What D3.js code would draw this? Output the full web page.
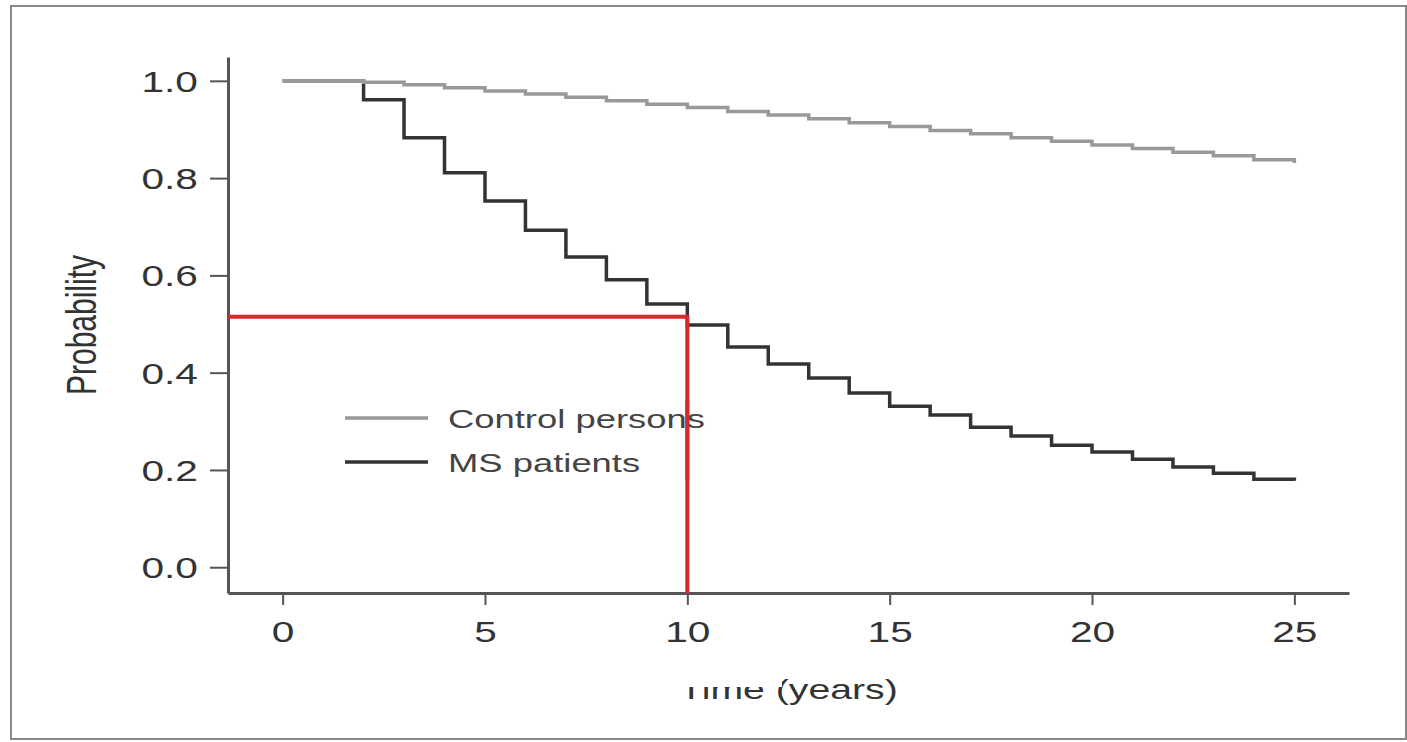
<!DOCTYPE html>
<html>
<head>
<meta charset="utf-8">
<script src="https://cdn.jsdelivr.net/npm/d3@7"></script>
<style>
  body { margin: 0; background: #fff; }
  text { font-family: "Liberation Sans", Arial, Helvetica, sans-serif; fill: #333; }
</style>
</head>
<body>
<div id="chart"></div>
<script>
{
    // data
    const controlTimes = [0, 1, 2, 3, 4, 5, 6, 7, 8, 9, 10, 11, 12, 13, 14, 15, 16, 17, 18, 19, 20, 21, 22, 23, 24, 25]
    const controlProb = [1.000, 1.000, 0.997, 0.992, 0.986, 0.979, 0.973, 0.966, 0.959, 0.952, 0.945, 0.937, 0.930,
        0.922, 0.914, 0.906, 0.898, 0.891, 0.883, 0.876, 0.868, 0.861, 0.853, 0.846, 0.838, 0.831]
    const msTimes = [0, 2, 3, 4, 5, 6, 7, 8, 9, 10, 11, 12, 13, 14, 15, 16, 17, 18, 19, 20, 21, 22, 23, 24, 25]
    const msProb = [1.000, 0.961, 0.883, 0.811, 0.753, 0.693, 0.638, 0.591, 0.541, 0.498, 0.453, 0.418, 0.389,
        0.358, 0.331, 0.313, 0.288, 0.270, 0.251, 0.237, 0.222, 0.206, 0.193, 0.181, 0.178]
    const xTicks = [0, 5, 10, 15, 20, 25]
    const yTicks = [0, 0.2, 0.4, 0.6, 0.8, 1.0]
    const medianProb = 0.515, medianTime = 10
    const legendLabels = ["Control persons", "MS patients"]

    const W = 1407, H = 742,
        SX = 1.4, // the figure is stretched sideways
        GRAY = "#999", DARK = "#333", RED = "#d42a2a"

    const svg = d3.select("#chart").append("svg")
        .attr("width", W)
        .attr("height", H)

    // outer frame
    svg.append("rect")
        .attr("x", 11).attr("y", 6)
        .attr("width", 1395).attr("height", 733)
        .style("fill", "none")
        .style("stroke", "#888")
        .style("stroke-width", 2)

    const x = d3.scaleLinear().domain([-1.35, 26.35]).range([228, 1349])
    const y = d3.scaleLinear().domain([-0.053, 1.049]).range([593, 57])

    const xAxis = svg.append("g")
        .attr("transform", "translate(0," + y.range()[0] + ")")
        .call(d3.axisBottom(x).tickValues(xTicks).tickFormat(d3.format("d"))
            .tickSize(12).tickSizeOuter(0).tickPadding(16))
    const yAxis = svg.append("g")
        .attr("transform", "translate(" + x.range()[0] + ",0)")
        .call(d3.axisLeft(y).tickValues(yTicks).tickFormat(d3.format(".1f"))
            .tickSize(18).tickSizeOuter(0).tickPadding(3.5))

    for (const ax of [xAxis, yAxis]) {
        ax.select(".domain").style("stroke", "#555").style("stroke-width", 3)
        ax.selectAll(".tick line").style("stroke", "#555").style("stroke-width", 2)
        ax.selectAll(".tick text")
            .style("font-size", "29px")
            .style("fill", "#333")
            .attr("transform", "scale(" + SX + ",1)")
    }
    yAxis.selectAll(".tick text").attr("dy", "0.36em")

    // axis titles
    svg.append("text")
        .attr("transform", "translate(" + (x.range()[0] + x.range()[1]) / 2 + ",699) scale(" + SX + ",1)")
        .attr("text-anchor", "middle")
        .style("font-size", "28px")
        .text("Time (years)")
    // white patch that hides the top of "Time" in the original
    svg.append("rect")
        .attr("x", 640).attr("y", 652)
        .attr("width", 142).attr("height", 35)
        .style("fill", "#fff")

    svg.append("text")
        .attr("transform", "translate(96,325) scale(" + SX + ",1) rotate(-90)")
        .attr("text-anchor", "middle")
        .style("font-size", "30px")
        .text("Probability")

    const line = d3.line()
        .x(d => x(d[0]))
        .y(d => y(d[1]))
        .curve(d3.curveStepAfter)

    svg.append("path")
        .datum(d3.zip(msTimes, msProb))
        .attr("d", line)
        .style("fill", "none")
        .style("stroke", DARK)
        .style("stroke-width", 3.5)

    svg.append("path")
        .datum(d3.zip(controlTimes, controlProb))
        .attr("d", line)
        .style("fill", "none")
        .style("stroke", GRAY)
        .style("stroke-width", 3.5)

    // median guide lines
    svg.append("path")
        .attr("d", d3.line()([[x.range()[0], y(medianProb)], [x(medianTime), y(medianProb)],
            [x(medianTime), y.range()[0]]]))
        .style("fill", "none")
        .style("stroke", RED)
        .style("stroke-width", 4)

    // legend
    const legend = svg.append("g")
    legendLabels.forEach((lab, i) => {
        const ly = 418 + i * 44
        legend.append("line")
            .attr("x1", 345).attr("x2", 428)
            .attr("y1", ly).attr("y2", ly)
            .style("stroke", i === 0 ? GRAY : DARK)
            .style("stroke-width", 3.5)
        legend.append("text")
            .attr("transform", "translate(448," + (ly + 10) + ") scale(" + SX + ",1)")
            .style("font-size", "26px")
            .style("fill", "#444")
            .text(lab)
    })
    // the red line runs over the legend text
    svg.append("line")
        .attr("x1", x(medianTime)).attr("x2", x(medianTime))
        .attr("y1", 400).attr("y2", 480)
        .style("stroke", RED)
        .style("stroke-width", 4)
}
</script>
</body>
</html>
